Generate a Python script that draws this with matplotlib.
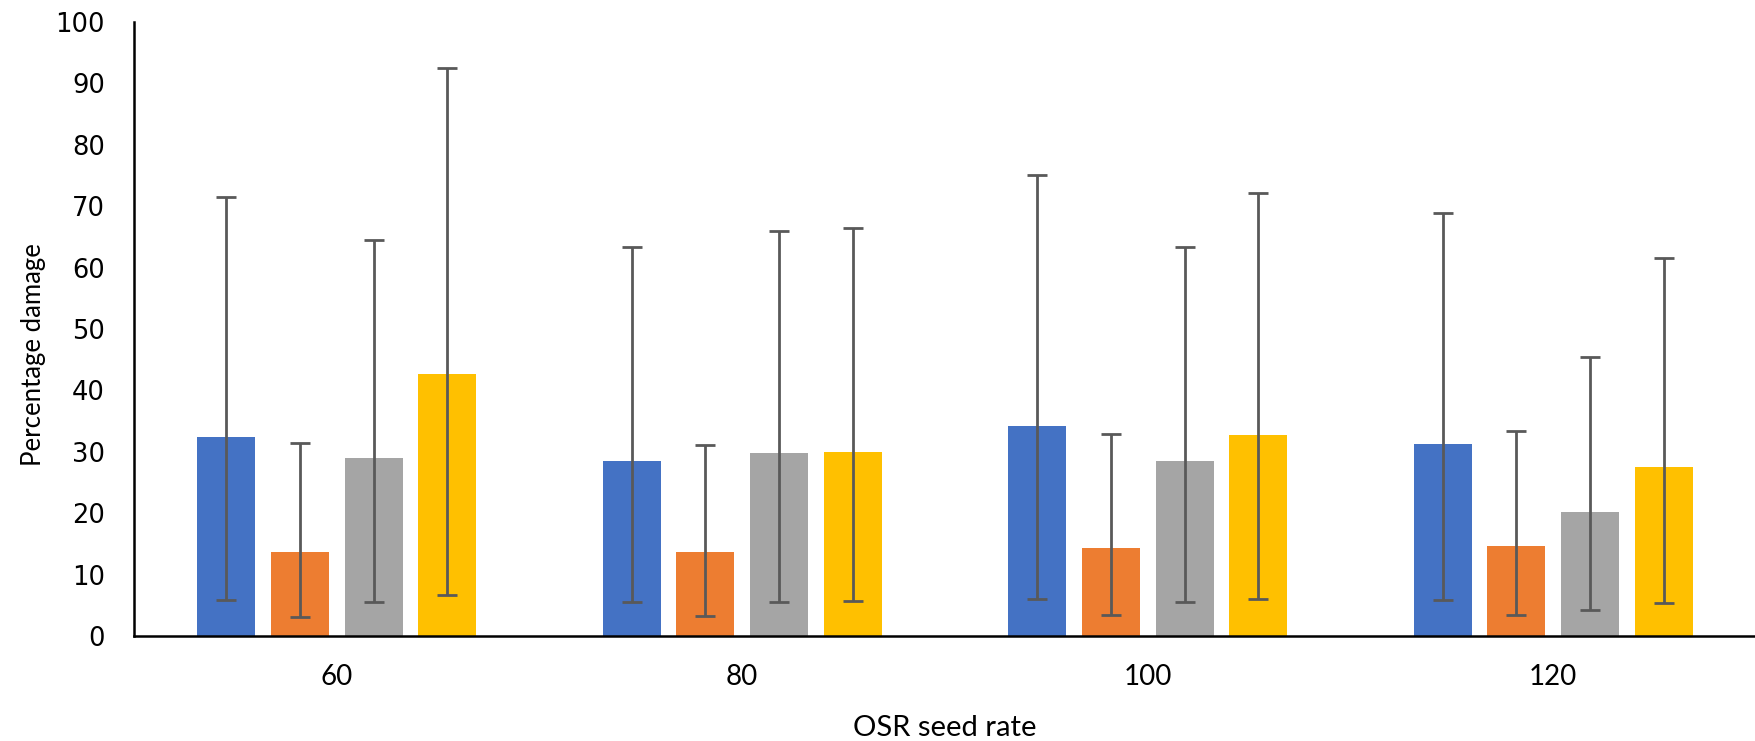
import matplotlib
matplotlib.use("Agg")
import matplotlib.pyplot as plt
import numpy as np

categories = ["60", "80", "100", "120"]
series_names = ["Series 1", "Series 2", "Series 3", "Series 4"]
colors = ["#4472C4", "#ED7D31", "#A5A5A5", "#FFC000"]

means = [
    [32.4, 28.5, 34.2, 31.2],
    [13.7, 13.6, 14.4, 14.6],
    [29.0, 29.8, 28.5, 20.2],
    [42.7, 30.0, 32.7, 27.6],
]
err_upper_val = [
    [71.5, 63.4, 75.1, 68.9],
    [31.4, 31.1, 32.9, 33.4],
    [64.5, 65.9, 63.3, 45.4],
    [92.5, 66.5, 72.1, 61.5],
]
err_lower_val = [
    [5.9, 5.5, 6.1, 5.8],
    [3.1, 3.2, 3.4, 3.4],
    [5.5, 5.6, 5.5, 4.3],
    [6.7, 5.7, 6.0, 5.4],
]

fig = plt.figure(figsize=(17.56, 7.41), dpi=100)
ax = fig.add_axes([134/1756, 105/741, 1 - 134/1756, 614/741])

x = np.arange(len(categories))
width = 0.143
step = 0.182
for i in range(4):
    m = np.array(means[i])
    up = np.array(err_upper_val[i]) - m
    lo = m - np.array(err_lower_val[i])
    pos = x + (i - 1.5) * step
    ax.bar(pos, m, width=width, color=colors[i], label=series_names[i], zorder=2)
    ax.errorbar(pos, m, yerr=[lo, up], fmt="none", ecolor="#595959",
                elinewidth=2, capsize=7, capthick=2, zorder=3)

ax.set_xlim(-0.5, 3.5)
ax.set_ylim(0, 100)
ax.set_yticks(np.arange(0, 101, 10))
ax.set_xticks(x)
ax.set_xticklabels(categories, fontfamily="Lato", fontsize=20)
for lbl in ax.get_yticklabels():
    lbl.set_fontfamily("DejaVu Sans")
    lbl.set_fontsize(18.5)
ax.tick_params(axis="both", length=0)
ax.tick_params(axis="y", pad=21)
ax.tick_params(axis="x", pad=20)

for s in ["top", "right"]:
    ax.spines[s].set_visible(False)
ax.spines["left"].set_linewidth(1.8)
ax.spines["bottom"].set_linewidth(1.8)
ax.spines["left"].set_color("black")
ax.spines["bottom"].set_color("black")

ax.set_xlabel("OSR seed rate", fontfamily="Lato", fontsize=21, labelpad=18)
fig.text(34/1756, 1 - 355/741, "Percentage damage", rotation=90,
         fontfamily="Lato", fontsize=18.5, ha="center", va="center")

fig.savefig("out.png", dpi=100)
